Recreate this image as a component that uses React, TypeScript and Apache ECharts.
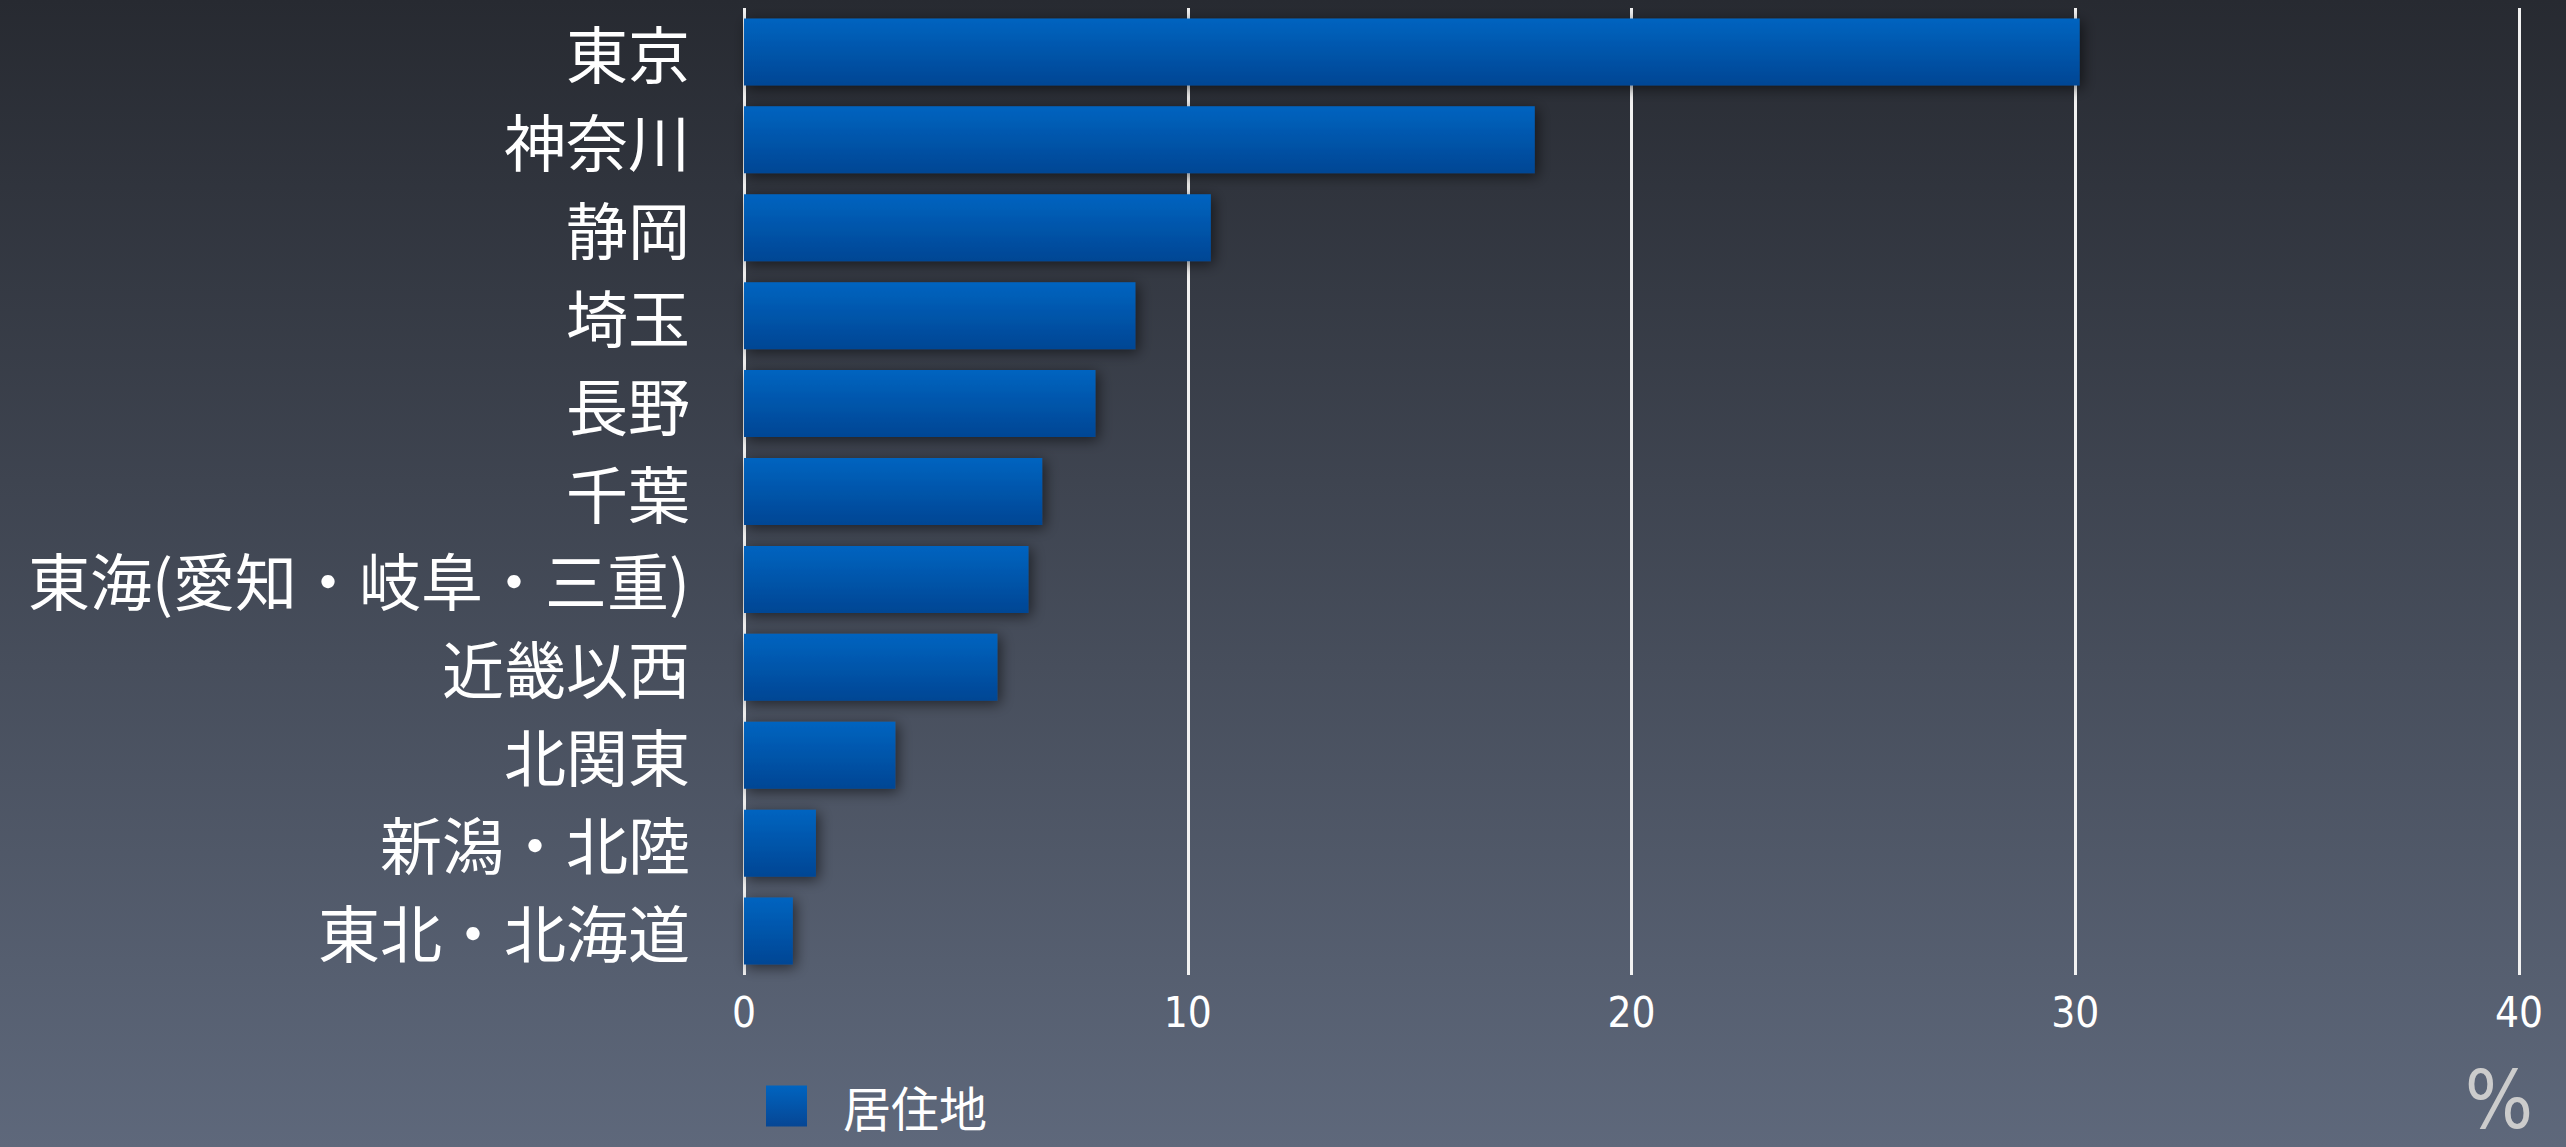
import React, { useEffect, useRef } from "react";
import * as echarts from "echarts";

const categories = [
  "東京",
  "神奈川",
  "静岡",
  "埼玉",
  "長野",
  "千葉",
  "東海(愛知・岐阜・三重)",
  "近畿以西",
  "北関東",
  "新潟・北陸",
  "東北・北海道",
];
const values = [30.1, 17.82, 10.52, 8.82, 7.92, 6.72, 6.41, 5.71, 3.41, 1.62, 1.1];
const seriesName = "居住地";
const unitLabel = "%";
const axisMin = 0;
const axisMax = 40;
const axisInterval = 10;

const jpFont = "'Noto Sans CJK JP', 'Noto Sans', sans-serif";
const numFont = "'Liberation Sans Narrow', 'DejaVu Sans Condensed', 'Liberation Sans', sans-serif";

export default function App() {
  const ref = useRef<HTMLDivElement>(null);
  useEffect(() => {
    if (!ref.current) return;
    const chart = echarts.init(ref.current, null, { renderer: "svg" });
    const barGradient = new echarts.graphic.LinearGradient(0, 0, 0, 1, [
      { offset: 0, color: "#0064c0" },
      { offset: 1, color: "#064694" },
    ]);
    chart.setOption({
      animation: false,
      backgroundColor: new echarts.graphic.LinearGradient(0, 0, 0, 1, [
        { offset: 0, color: "#272a31" },
        { offset: 1, color: "#5e687b" },
      ]),
      grid: { left: 744, right: 47, top: 8, bottom: 172, containLabel: false },
      xAxis: {
        type: "value",
        min: axisMin,
        max: axisMax,
        interval: axisInterval,
        axisLine: { show: false },
        axisTick: { show: false },
        axisLabel: {
          color: "#ffffff",
          fontSize: 42,
          fontFamily: numFont,
          margin: 16,
        },
        splitLine: {
          show: true,
          lineStyle: {
            color: "#f2f2f2",
            width: 3,
            type: "solid",
          },
        },
      },
      yAxis: {
        type: "category",
        inverse: true,
        data: categories,
        axisLine: { show: false },
        axisTick: { show: false },
        splitLine: { show: false },
        axisLabel: {
          color: "#ffffff",
          fontSize: 62,
          fontFamily: jpFont,
          margin: 54,
        },
      },
      legend: {
        left: 766,
        top: 1076,
        padding: 0,
        itemWidth: 41,
        itemHeight: 41,
        icon: "rect",
        data: [seriesName],
        textStyle: {
          color: "#ffffff",
          fontSize: 48,
          lineHeight: 44,
          fontFamily: jpFont,
          padding: [0, 0, 16, 31],
        },
      },
      series: [
        {
          type: "bar",
          name: seriesName,
          data: values,
          barWidth: 67,
          z: 3,
          itemStyle: {
            color: barGradient,
            shadowColor: "rgba(0,0,0,0.55)",
            shadowBlur: 14,
            shadowOffsetX: 3,
            shadowOffsetY: 3,
          },
        },
      ],
      graphic: [
        {
          type: "text",
          x: 2499,
          y: 1100,
          style: {
            text: unitLabel,
            fill: "#cccccc",
            fontSize: 80,
            lineHeight: 60,
            fontFamily: numFont,
            align: "center",
            verticalAlign: "middle",
            shadowColor: "rgba(0,0,0,0.6)",
            shadowBlur: 4,
            shadowOffsetX: 2,
            shadowOffsetY: 2,
          },
        },
      ],
    });
    return () => chart.dispose();
  }, []);
  return (
    <div
      ref={ref}
      style={{ position: "fixed", left: 0, top: 0, width: 2566, height: 1147 }}
    />
  );
}
